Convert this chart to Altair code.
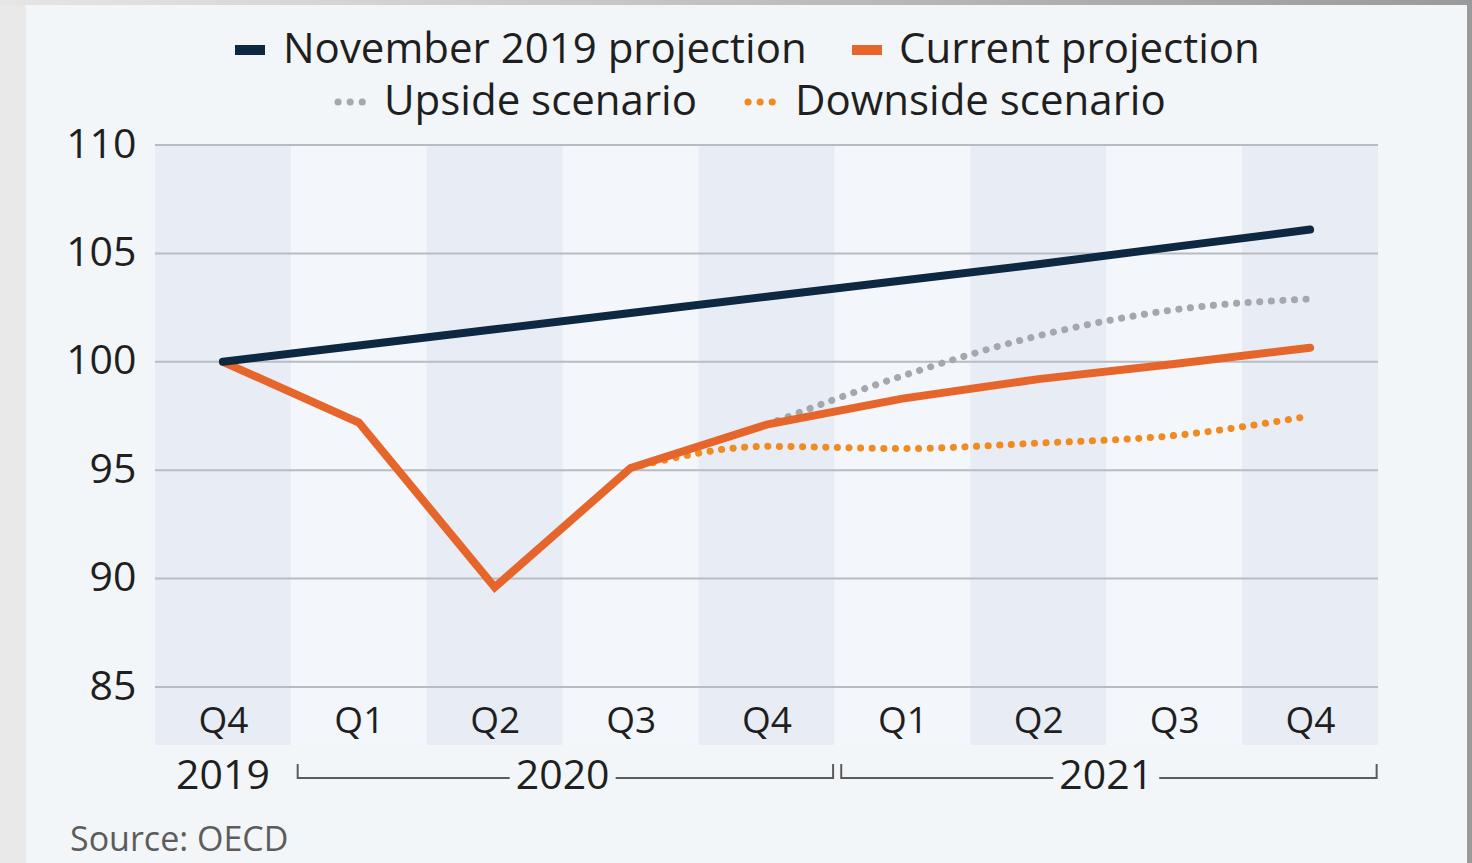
import altair as alt
import pandas as pd

# ---------------- data ----------------
quarters = ["Q4", "Q1", "Q2", "Q3", "Q4", "Q1", "Q2", "Q3", "Q4"]
quarter_year = ["2019", "2020", "2020", "2020", "2020", "2021", "2021", "2021", "2021"]
y_ticks = [85, 90, 95, 100, 105, 110]

nov_2019 = [100.0, 100.75, 101.5, 102.25, 103.0, 103.75, 104.5, 105.3, 106.1]
current = [100.0, 97.2, 89.6, 95.1, 97.1, 98.3, 99.2, 99.9, 100.65]
upside = [None, None, None, None, 97.1, 99.35, 101.2, 102.4, 102.9]
downside = [None, None, None, 95.1, 96.1, 96.0, 96.25, 96.6, 97.5]

series_names = ["November 2019 projection", "Current projection",
                "Upside scenario", "Downside scenario"]
source_text = "Source: OECD"

# ---------------- styles ----------------
FONT = "Open Sans"
NAVY = "#0e2842"
ORANGE = "#e5652a"
DOWN = "#f28a22"
GREY = "#a4a7ac"
TEXT = "#1f1f1f"
PANEL = "#f3f6f9"
STRIPE_D = "#e8edf5"
STRIPE_L = "#f3f6fa"
GRID = "#b8bcc2"

W, H = 1223, 542
X_DOMAIN = [-0.5, len(quarters) - 0.5]

x_scale = alt.Scale(domain=X_DOMAIN, nice=False, zero=False)
y_scale = alt.Scale(domain=[85, 110], nice=False, zero=False)

label_expr = "[" + ",".join("'%s'" % q for q in quarters) + "][datum.value]"
X_AXIS = alt.Axis(values=list(range(len(quarters))), labelExpr=label_expr,
                  labelFontSize=37, labelColor=TEXT, labelPadding=16,
                  ticks=False, domain=False, grid=False, title=None,
                  labelFont=FONT, zindex=1)
Y_AXIS = alt.Axis(values=y_ticks, labelFontSize=41, labelColor=TEXT,
                  labelPadding=19, ticks=False, domain=False, grid=False,
                  title=None, labelFont=FONT, zindex=1)

one = pd.DataFrame({"a": [0]})

# frame / panel decoration
frame_top = alt.Chart(one).mark_rect(
    fill=alt.Gradient(gradient="linear", x1=0, x2=1, y1=0, y2=0,
                      stops=[alt.GradientStop(color="#e6e6e6", offset=0),
                             alt.GradientStop(color="#9a9a9a", offset=1)])
).encode(x=alt.value(-155), x2=alt.value(1317), y=alt.value(-145), y2=alt.value(-140))
frame_right = alt.Chart(one).mark_rect(color="#9a9a9a").encode(
    x=alt.value(1312), x2=alt.value(1317), y=alt.value(-145), y2=alt.value(718))
panel = alt.Chart(one).mark_rect(color=PANEL).encode(
    x=alt.value(-129), x2=alt.value(1312), y=alt.value(-140), y2=alt.value(718))

# stripes
idx = list(range(len(quarters)))
stripe_df = pd.DataFrame({
    "x0": [i - 0.5 for i in idx],
    "x1": [i + 0.5 for i in idx],
    "shade": ["d" if i % 2 == 0 else "l" for i in idx],
})
stripes = alt.Chart(stripe_df).mark_rect().encode(
    x=alt.X("x0:Q", scale=x_scale, axis=X_AXIS),
    x2="x1:Q",
    y=alt.value(0), y2=alt.value(600),
    color=alt.Color("shade:N", scale=alt.Scale(domain=["d", "l"], range=[STRIPE_D, STRIPE_L]), legend=None),
)

# gridlines
grid = alt.Chart(pd.DataFrame({"v": y_ticks})).mark_rule(color=GRID, strokeWidth=2).encode(
    y=alt.Y("v:Q", scale=y_scale, axis=Y_AXIS),
    x=alt.value(0), x2=alt.value(W),
)


def series_df(vals):
    rows = [(i, v) for i, v in zip(idx, vals) if v is not None]
    return pd.DataFrame(rows, columns=["i", "v"])


def line_layer(vals, color, width, dash=None, interp="linear"):
    kw = dict(color=color, strokeWidth=width, interpolate=interp)
    if dash:
        kw.update(strokeDash=dash, strokeCap="round")
    else:
        kw.update(strokeCap="round", strokeJoin="miter")
    return alt.Chart(series_df(vals)).mark_line(**kw).encode(
        x=alt.X("i:Q", scale=x_scale, axis=X_AXIS),
        y=alt.Y("v:Q", scale=y_scale, axis=Y_AXIS),
    )


l_up = line_layer(upside, GREY, 7, [0.1, 11.5], "monotone")
l_down = line_layer(downside, DOWN, 7, [0.1, 11.5], "monotone")
l_cur = line_layer(current, ORANGE, 8)
l_nov = line_layer(nov_2019, NAVY, 8)

# year labels and brackets
years = []
for y in quarter_year:
    if y not in years:
        years.append(y)
year_rows, hseg, vseg = [], [], []
GAP = 0.39
for y in years:
    members = [i for i, qy in zip(idx, quarter_year) if qy == y]
    c = sum(members) / len(members)
    year_rows.append({"x": c, "t": y})
    if len(members) > 1:
        lo, hi = min(members) - 0.45, max(members) + 0.49
        hseg.append({"a": lo, "b": c - GAP})
        hseg.append({"a": c + GAP, "b": hi})
        vseg.append({"a": lo})
        vseg.append({"a": hi})

year_text = alt.Chart(pd.DataFrame(year_rows)).mark_text(
    fontSize=41, color=TEXT, baseline="middle", align="center", font=FONT
).encode(x=alt.X("x:Q", scale=x_scale, axis=X_AXIS), y=alt.value(632), text="t:N")
br_h = alt.Chart(pd.DataFrame(hseg)).mark_rule(color="#5b5b5b", strokeWidth=2).encode(
    x=alt.X("a:Q", scale=x_scale, axis=X_AXIS), x2="b:Q", y=alt.value(633))
br_v = alt.Chart(pd.DataFrame(vseg)).mark_rule(color="#5b5b5b", strokeWidth=2).encode(
    x=alt.X("a:Q", scale=x_scale, axis=X_AXIS), y=alt.value(619), y2=alt.value(634))

# manual legend (two centred rows)
legend_items = [
    # name, color, dash, sym_x0, sym_x1, text_x, y
    (series_names[0], NAVY, None, 80, 110, 128, -95),
    (series_names[1], ORANGE, None, 697, 727, 744, -95),
    (series_names[2], GREY, [0.1, 12], 183, 213, 229, -43),
    (series_names[3], DOWN, [0.1, 12], 593, 623, 640, -43),
]
legend_layers = []
for name, col, dash, s0, s1, tx, ty in legend_items:
    if dash:
        sym = alt.Chart(one).mark_rule(color=col, strokeWidth=7, strokeDash=dash, strokeCap="round")
    else:
        sym = alt.Chart(one).mark_rule(color=col, strokeWidth=10, strokeCap="butt")
    legend_layers.append(sym.encode(x=alt.value(s0), x2=alt.value(s1), y=alt.value(ty)))
    legend_layers.append(
        alt.Chart(pd.DataFrame({"t": [name]})).mark_text(
            fontSize=42, color=TEXT, align="left", baseline="middle", font=FONT
        ).encode(x=alt.value(tx), y=alt.value(ty), text="t:N")
    )

source = alt.Chart(pd.DataFrame({"t": [source_text]})).mark_text(
    fontSize=34, color="#5c5c5c", align="left", baseline="alphabetic", font=FONT
).encode(x=alt.value(-85), y=alt.value(706), text="t:N")

chart = alt.layer(
    frame_top, frame_right, panel, stripes, grid,
    l_up, l_down, l_cur, l_nov,
    year_text, br_h, br_v, source, *legend_layers
).properties(
    width=W, height=H,
    autosize=alt.AutoSizeParams(type="none"),
    padding={"left": 155, "top": 145, "right": 94, "bottom": 176},
    background="#e9e9e9",
).configure_view(strokeWidth=0).configure(font=FONT)

chart.save("out.html", embed_options={"renderer": "svg", "actions": False})
